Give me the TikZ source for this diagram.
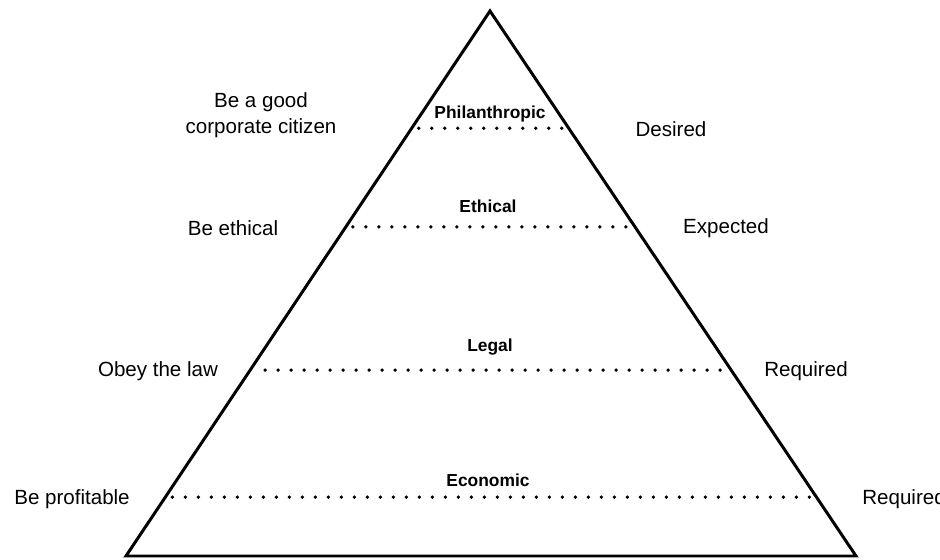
\documentclass[tikz,border=0pt]{standalone}
\usepackage{fontspec}
\setmainfont{Liberation Sans}
\usetikzlibrary{calc}

\begin{document}
\begin{tikzpicture}[x=0.02cm,y=-0.02cm,
    side/.style={font=\fontsize{11.7}{14.5}\selectfont,align=center,inner sep=0pt},
    level/.style={font=\fontsize{9.9}{12}\selectfont\bfseries,inner sep=0pt},
    dotline/.style={line width=2.1pt,line cap=round,dash pattern=on 0pt off 7.4pt}]
    \useasboundingbox (0,0) rectangle (940,560);
    \clip (0,0) rectangle (940,560);
    \coordinate (T) at (490,11);
    \coordinate (L) at (126,556);
    \coordinate (R) at (856,556);
    \draw[line width=1.7pt] (T) -- (L) -- (R) -- cycle;
    % dotted levels
    \draw[dotline] ($(T)!0.215!(L)+(7,0)$) -- ($(T)!0.215!(R)$);
    \draw[dotline] ($(T)!0.396!(L)+(7,0)$) -- ($(T)!0.396!(R)$);
    \draw[dotline] ($(T)!0.659!(L)+(15,0)$) -- ($(T)!0.659!(R)$);
    \draw[dotline] ($(T)!0.892!(L)+(7,0)$) -- ($(T)!0.892!(R)$);
    % level names
    \node[level] (phil) at (490,114) {Philanthropic};
    \node[level] (eth) at (488,206) {Ethical};
    \node[level] (leg) at (490,347) {Legal};
    \node[level] (eco) at (488,480) {Economic};
    % left side
    \node[side] (citizen) at (261,115) {Be a good\\corporate citizen};
    \node[side] (beeth) at (233,228) {Be ethical};
    \node[side] (obey) at (158,371) {Obey the law};
    \node[side] (profit) at (72,499) {Be profitable};
    % right side
    \node[side] (desired) at (671,129) {Desired};
    \node[side] (expected) at (726,228) {Expected};
    \node[side] (req) at (806,371) {Required};
    \node[side,anchor=west] (req2) at (862,499) {Required};
\end{tikzpicture}
\end{document}
